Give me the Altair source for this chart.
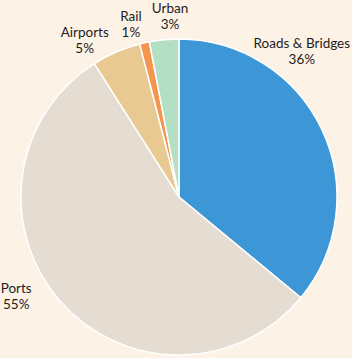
import altair as alt
import pandas as pd

categories = ["Roads & Bridges", "Ports", "Airports", "Rail", "Urban"]
values = [36, 55, 5, 1, 3]
colors = ["#3d96d6", "#e5ddd2", "#e8c991", "#f6954e", "#b3dfc5"]

# label anchor layout (angle in % of circle, radius in px)
label_angle = [11.19, 66.24, 91.33, 95.67, 99.21]
label_radius = [190, 191, 182, 179, 180]

df = pd.DataFrame({
    "cat": categories,
    "val": values,
    "ord": list(range(len(categories))),
    "lab": [f"{c}\n{v}%" for c, v in zip(categories, values)],
    "la": label_angle,
    "lr": label_radius,
})

theta_scale = alt.Scale(domain=[0, 100], range=[0, 6.283185307179586])

pie = alt.Chart(df).mark_arc(stroke="white", strokeWidth=1.5, outerRadius=158).encode(
    theta=alt.Theta("val:Q", stack=True, scale=theta_scale),
    color=alt.Color("cat:N", scale=alt.Scale(domain=categories, range=colors), legend=None),
    order=alt.Order("ord:Q", sort="ascending"),
)

labels = alt.Chart(df).mark_text(
    font="Lato", fontSize=13.5, color="#1f1b1c", lineBreak="\n",
    align="center", baseline="middle", lineHeight=16, dy=-8,
).encode(
    theta=alt.Theta("la:Q", stack=None, scale=theta_scale),
    radius=alt.Radius("lr:Q", scale=None),
    text="lab:N",
)

chart = alt.layer(pie, labels).properties(
    width=346, height=322,
    padding={"left": 6, "top": 36, "right": 0, "bottom": 0},
    background="#fcf3e6",
    autosize=alt.AutoSizeParams(type="none"),
).configure_view(strokeWidth=0)

chart.save("out.html", embed_options={"renderer": "svg", "actions": False})
